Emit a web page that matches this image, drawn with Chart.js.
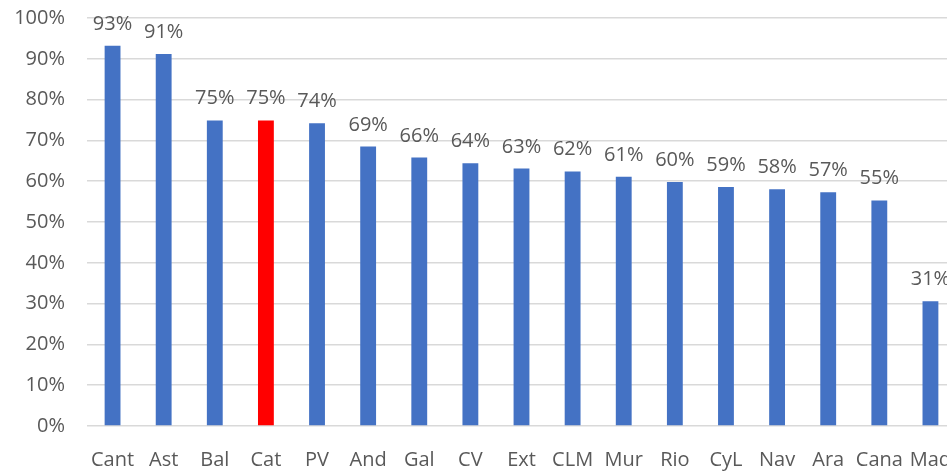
<!DOCTYPE html>
<html>
<head>
<meta charset="utf-8">
<script src="https://cdn.jsdelivr.net/npm/chart.js@4"></script>
<style>
  html, body { margin: 0; padding: 0; overflow: hidden; background: #fff; }
</style>
</head>
<body>
<canvas id="chart" width="956" height="471"></canvas>
<script>
const regions = ['Cant', 'Ast', 'Bal', 'Cat', 'PV', 'And', 'Gal', 'CV', 'Ext', 'CLM', 'Mur', 'Rio', 'CyL', 'Nav', 'Ara', 'Cana', 'Mad'];
const shares = [93.2, 91.2, 74.9, 74.9, 74.2, 68.5, 65.8, 64.4, 63.1, 62.4, 61.1, 59.8, 58.6, 58.0, 57.3, 55.3, 30.6];
const highlight = 'Cat';
const yTicks = [0, 10, 20, 30, 40, 50, 60, 70, 80, 90, 100];

const FONT = '"Open Sans", "Liberation Sans", sans-serif';
const GREY = '#595959';

// labels above each bar, like Excel data labels
const barLabels = {
  id: 'barLabels',
  afterDatasetsDraw(chart) {
    const ctx = chart.ctx;
    const meta = chart.getDatasetMeta(0);
    ctx.save();
    ctx.font = '20px ' + FONT;
    ctx.fillStyle = GREY;
    ctx.textAlign = 'center';
    ctx.textBaseline = 'alphabetic';
    meta.data.forEach((bar, i) => {
      ctx.fillText(Math.round(shares[i]) + '%', bar.x, bar.y - 16);
    });
    ctx.restore();
  }
};

new Chart(document.getElementById('chart'), {
  type: 'bar',
  data: {
    labels: regions,
    datasets: [{
      data: shares,
      backgroundColor: regions.map(r => r === highlight ? '#FF0000' : '#4472C4'),
      barPercentage: 0.31,
      categoryPercentage: 1
    }]
  },
  options: {
    responsive: false,
    animation: false,
    layout: { padding: { top: 18, right: 0, bottom: 0, left: 0 } },
    plugins: { legend: { display: false }, tooltip: { enabled: false } },
    scales: {
      x: {
        grid: { display: false },
        border: { display: false },
        ticks: { color: GREY, font: { family: FONT, size: 20 }, padding: 14, maxRotation: 0, autoSkip: false },
        afterFit(scale) {
          scale.height = 45;
          scale.paddingLeft = 0;
          scale.paddingRight = 0;
        }
      },
      y: {
        min: 0,
        max: 100,
        afterBuildTicks(scale) { scale.ticks = yTicks.map(v => ({ value: v })); },
        grid: { color: '#d9d9d9', lineWidth: 1.5, drawTicks: false },
        border: { display: false },
        ticks: {
          color: GREY,
          font: { family: FONT, size: 20 },
          padding: 22,
          callback: v => v + '%'
        },
        afterFit(scale) {
          scale.width = 87;
          scale.paddingTop = 0;
          scale.paddingBottom = 0;
        }
      }
    }
  },
  plugins: [barLabels]
});
</script>
</body>
</html>
